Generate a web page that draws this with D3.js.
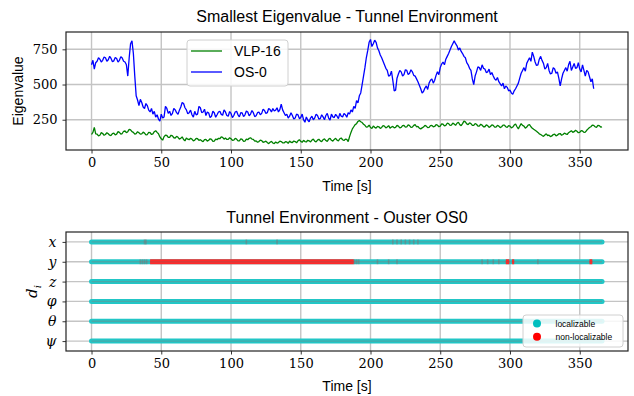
<!DOCTYPE html>
<html>
<head>
<meta charset="utf-8">
<script src="https://cdn.jsdelivr.net/npm/d3@7"></script>
<style>
  body { margin: 0; background: #fff; }
  svg { display: block; }
</style>
</head>
<body>
<svg id="chart" width="634" height="396"></svg>
<script>
// ---------------------------------------------------------------- data
// sample times are every 1 s starting at 0
var step = 1;

// smallest eigenvalue, OS-0 (0 .. 360 s)
var os0 = [640,672,610,655,665,690,680,660,672,695,690,665,676,700,685,662,668,692,684,660,
  672,698,688,665,660,640,560,690,790,810,720,560,420,390,350,395,372,340,330,365,
  350,318,305,330,290,310,268,285,255,240,290,262,270,345,330,295,310,280,295,330,
  320,300,288,318,340,372,365,335,320,292,300,318,285,268,310,285,290,345,335,300,
  305,325,280,305,298,265,275,310,300,268,285,305,310,288,282,320,305,280,275,308,
  295,265,280,305,310,285,270,300,298,272,285,312,305,278,290,315,300,272,278,300,
  305,285,295,325,315,295,300,330,322,305,330,312,318,335,305,322,360,320,300,280,
  290,262,275,300,280,255,262,290,285,258,265,290,250,232,270,248,235,262,275,250,
  262,290,280,255,258,285,270,250,280,295,262,248,290,270,265,288,275,258,295,275,
  270,295,285,268,300,290,320,305,345,330,385,370,420,440,500,560,620,690,740,800,
  820,770,790,815,800,760,740,710,690,665,640,615,600,560,565,595,530,455,460,545,
  575,600,590,560,570,605,600,570,580,605,590,565,560,540,520,495,470,440,450,475,
  490,465,510,530,540,510,530,565,590,570,620,645,660,640,680,700,720,745,770,790,
  810,790,775,745,760,735,720,700,690,655,640,615,600,540,500,560,590,625,620,600,
  640,615,610,585,590,610,570,585,560,540,530,550,520,505,490,510,470,490,480,455,
  460,440,430,455,470,490,510,545,580,600,620,595,650,670,690,665,730,700,660,635,
  640,680,700,670,650,610,620,650,600,575,580,620,610,580,590,545,490,540,580,600,
  620,595,640,665,600,625,650,615,620,655,610,590,640,600,560,600,590,555,520,540,
  470];

// smallest eigenvalue, VLP-16 (0 .. 366 s)
var vlp16 = [145,160,195,150,148,135,140,158,152,140,145,158,150,140,138,152,155,142,148,165,
  160,148,152,168,170,158,165,182,178,165,160,148,152,165,158,148,150,162,155,142,
  145,160,158,145,150,165,172,160,150,128,115,105,130,140,138,125,125,140,135,122,
  120,132,125,112,118,128,110,100,120,112,108,118,112,100,105,118,115,104,108,100,
  95,108,110,98,104,115,110,96,98,112,108,118,115,128,125,112,120,110,110,122,
  115,104,105,118,112,100,100,114,110,96,98,112,108,118,122,112,110,98,100,90,
  95,105,102,90,92,98,88,80,90,96,85,80,92,84,88,98,95,86,85,94,
  92,82,98,90,88,99,95,86,100,108,96,90,104,95,92,104,100,92,106,112,
  98,92,105,112,100,94,108,114,102,96,112,118,104,98,110,118,105,100,115,120,
  108,102,112,110,95,130,160,185,200,215,222,238,245,236,230,218,210,198,200,212,
  195,188,205,196,190,203,200,188,195,208,205,192,198,208,190,198,203,192,195,210,
  205,192,196,208,210,198,200,214,208,196,198,210,215,200,202,190,185,192,198,210,
  205,194,195,208,210,200,202,215,212,200,205,220,218,206,210,225,222,210,212,226,
  220,210,225,232,215,208,222,240,235,220,215,228,222,210,210,222,218,205,205,218,
  212,200,200,213,208,196,202,214,210,198,198,210,205,194,200,212,212,200,195,208,
  205,192,198,212,220,200,185,205,222,210,205,190,198,212,215,200,190,182,175,168,
  160,150,145,138,132,142,150,138,140,130,135,145,148,136,140,150,152,140,145,155,
  150,145,158,165,172,160,165,175,168,158,160,172,170,160,162,175,185,195,200,212,
  210,200,195,210,208,198,200];

// localizability, OS0
var dims = ["x", "y", "z", "\u03c6", "\u03b8", "\u03c8"];
var runEnd = 366;
var nonLocDim = ["y", "y", "y", "y"];
var nonLocStart = [42, 297, 301.5, 357];
var nonLocEnd = [188, 299.5, 303, 359];
// faint marker edges where the flag flips
var flipDim = ["x","x","x","x","x","x","x","x","x","x","x","y","y","y","y","y","y","y","y","y","y","y","y","y","y","y"];
var flipTime = [38,39,111,133,216,219,222,225,228,231,234,35,36.5,38,39.5,188.5,190,191.5,205,213,219,280,284,288,292,320];

var xTicks = [0, 50, 100, 150, 200, 250, 300, 350];
var yTicks = [250, 500, 750];

// ---------------------------------------------------------------- layout
var svg = d3.select("#chart");
var left = 66, right = 628;
var top1 = {top: 32, bottom: 150};
var top2 = {top: 232, bottom: 351};
var sans = "'Liberation Sans', Arial, sans-serif";
var serif = "'DejaVu Serif', serif";
var gridColor = "#c4c4c4";

var x = d3.scaleLinear().domain([-18.3, 384.6]).range([left, right]);

function toSeries(arr) {
  return arr.map(function(v, i) { return [i * step, v]; });
}

function drawXAxis(g, panel) {
  // vertical grid
  g.selectAll(".vgrid").data(xTicks).enter().append("line")
    .attr("x1", function(d) { return x(d); }).attr("x2", function(d) { return x(d); })
    .attr("y1", panel.bottom).attr("y2", panel.top)
    .attr("stroke", gridColor).attr("stroke-width", 1.4);
  var ax = g.append("g").attr("transform", "translate(0," + panel.bottom + ")")
    .call(d3.axisBottom(x).tickValues(xTicks).tickSize(3.5).tickPadding(4));
  ax.select(".domain").remove();
  ax.selectAll("line").attr("stroke", "#000").attr("stroke-width", 0.8);
  ax.selectAll("text").style("font-family", serif).style("font-size", "13px").attr("fill", "#000");
}

// ---------------------------------------------------------------- top panel
var y1 = d3.scaleLinear().domain([35, 873]).range([top1.bottom, top1.top]);
var gTop = svg.append("g");

gTop.selectAll(".hgrid").data(yTicks).enter().append("line")
  .attr("x1", left).attr("x2", right)
  .attr("y1", function(d) { return y1(d); }).attr("y2", function(d) { return y1(d); })
  .attr("stroke", gridColor).attr("stroke-width", 1.4);

drawXAxis(gTop, top1);

var ay1 = gTop.append("g").attr("transform", "translate(" + left + ",0)")
  .call(d3.axisLeft(y1).tickValues(yTicks).tickSize(3.5).tickPadding(5));
ay1.select(".domain").remove();
ay1.selectAll("line").attr("stroke", "#000").attr("stroke-width", 0.8);
ay1.selectAll("text").style("font-family", serif).style("font-size", "13px").attr("fill", "#000");

var line1 = d3.line().x(function(d) { return x(d[0]); }).y(function(d) { return y1(d[1]); });

svg.append("clipPath").attr("id", "clipTop").append("rect")
  .attr("x", left).attr("y", top1.top).attr("width", right - left).attr("height", top1.bottom - top1.top);

gTop.append("path").datum(toSeries(vlp16))
  .attr("d", line1).attr("fill", "none").attr("stroke", "#008000").attr("stroke-width", 1.3)
  .attr("stroke-linejoin", "bevel").attr("clip-path", "url(#clipTop)");
gTop.append("path").datum(toSeries(os0))
  .attr("d", line1).attr("fill", "none").attr("stroke", "#0000ff").attr("stroke-width", 1.3)
  .attr("stroke-linejoin", "bevel").attr("clip-path", "url(#clipTop)");

gTop.append("rect").attr("x", left).attr("y", top1.top)
  .attr("width", right - left).attr("height", top1.bottom - top1.top)
  .attr("fill", "none").attr("stroke", "#222").attr("stroke-width", 1.2);

// legend
var leg1 = gTop.append("g");
leg1.append("rect").attr("x", 187).attr("y", 40).attr("width", 101).attr("height", 46)
  .attr("rx", 3).attr("fill", "#fff").attr("fill-opacity", 0.85)
  .attr("stroke", "#d0d0d0").attr("stroke-width", 1);
var legNames = ["VLP-16", "OS-0"];
var legColors = ["#008000", "#0000ff"];
legNames.forEach(function(n, i) {
  var yy = 51 + i * 21;
  leg1.append("line").attr("x1", 191).attr("x2", 222).attr("y1", yy).attr("y2", yy)
    .attr("stroke", legColors[i]).attr("stroke-width", 1.3);
  leg1.append("text").attr("x", 234).attr("y", yy).attr("dy", "0.36em")
    .style("font-family", sans).style("font-size", "14px").text(n);
});

gTop.append("text").attr("x", 347).attr("y", 22).attr("text-anchor", "middle")
  .style("font-family", sans).style("font-size", "16px").text("Smallest Eigenvalue - Tunnel Environment");
gTop.append("text").attr("x", 347).attr("y", 191).attr("text-anchor", "middle")
  .style("font-family", sans).style("font-size", "14px").text("Time [s]");
gTop.append("text").attr("transform", "translate(23," + ((top1.top + top1.bottom) / 2) + ") rotate(-90)")
  .attr("text-anchor", "middle")
  .style("font-family", sans).style("font-size", "14px").text("Eigenvalue");

// ---------------------------------------------------------------- bottom panel
var y2 = d3.scalePoint().domain(dims).range([top2.top, top2.bottom]).padding(0.5);
var gBot = svg.append("g");

gBot.selectAll(".hgrid").data(dims).enter().append("line")
  .attr("x1", left).attr("x2", right)
  .attr("y1", function(d) { return y2(d); }).attr("y2", function(d) { return y2(d); })
  .attr("stroke", gridColor).attr("stroke-width", 1.4);

drawXAxis(gBot, top2);

// localizable bands
gBot.selectAll(".band").data(dims).enter().append("line")
  .attr("x1", x(0)).attr("x2", x(runEnd))
  .attr("y1", function(d) { return y2(d); }).attr("y2", function(d) { return y2(d); })
  .attr("stroke", "#22c6c6").attr("stroke-width", 5).attr("stroke-linecap", "round");
gBot.selectAll(".bandc").data(dims).enter().append("line")
  .attr("x1", x(0)).attr("x2", x(runEnd))
  .attr("y1", function(d) { return y2(d); }).attr("y2", function(d) { return y2(d); })
  .attr("stroke", "#4aa8a8").attr("stroke-width", 1.4);

// non-localizable segments
var nonLoc = nonLocDim.map(function(d, i) { return {dim: d, t0: nonLocStart[i], t1: nonLocEnd[i]}; });
gBot.selectAll(".nl").data(nonLoc).enter().append("line")
  .attr("x1", function(d) { return x(d.t0); }).attr("x2", function(d) { return x(d.t1); })
  .attr("y1", function(d) { return y2(d.dim); }).attr("y2", function(d) { return y2(d.dim); })
  .attr("stroke", "#ff2a2a").attr("stroke-width", 5);
gBot.selectAll(".nlc").data(nonLoc).enter().append("line")
  .attr("x1", function(d) { return x(d.t0); }).attr("x2", function(d) { return x(d.t1); })
  .attr("y1", function(d) { return y2(d.dim); }).attr("y2", function(d) { return y2(d.dim); })
  .attr("stroke", "#d83a3a").attr("stroke-width", 1.4);

// faint flips
gBot.selectAll(".flip").data(flipTime).enter().append("rect")
  .attr("x", function(d) { return x(d) - 0.8; })
  .attr("y", function(d, i) { return y2(flipDim[i]) - 2.5; })
  .attr("width", 1.6).attr("height", 5)
  .attr("fill", "#8a6a6a").attr("opacity", 0.45);

var ay2 = gBot.append("g").attr("transform", "translate(" + left + ",0)")
  .call(d3.axisLeft(y2).tickSize(3.5).tickPadding(6));
ay2.select(".domain").remove();
ay2.selectAll("line").attr("stroke", "#000").attr("stroke-width", 0.8);
ay2.selectAll("text").style("font-family", serif).style("font-style", "italic")
  .style("font-size", "14px").attr("fill", "#000");

gBot.append("rect").attr("x", left).attr("y", top2.top)
  .attr("width", right - left).attr("height", top2.bottom - top2.top)
  .attr("fill", "none").attr("stroke", "#222").attr("stroke-width", 1.2);

// legend
var leg2 = gBot.append("g");
leg2.append("rect").attr("x", 523).attr("y", 315).attr("width", 100).attr("height", 32)
  .attr("rx", 3).attr("fill", "#fff").attr("fill-opacity", 0.85)
  .attr("stroke", "#d0d0d0").attr("stroke-width", 1);
var leg2Names = ["localizable", "non-localizable"];
var leg2Colors = ["#00bfbf", "#ff0000"];
leg2Names.forEach(function(n, i) {
  var yy = 323.5 + i * 13.3;
  leg2.append("circle").attr("cx", 537).attr("cy", yy).attr("r", 4).attr("fill", leg2Colors[i]);
  leg2.append("text").attr("x", 555.5).attr("y", yy).attr("dy", "0.36em")
    .style("font-family", sans).style("font-size", "8.5px").text(n);
});

gBot.append("text").attr("x", 347).attr("y", 223).attr("text-anchor", "middle")
  .style("font-family", sans).style("font-size", "16px").text("Tunnel Environment - Ouster OS0");
gBot.append("text").attr("x", 347).attr("y", 391).attr("text-anchor", "middle")
  .style("font-family", sans).style("font-size", "14px").text("Time [s]");
var dl = gBot.append("text").attr("transform", "translate(37," + ((top2.top + top2.bottom) / 2) + ") rotate(-90)")
  .attr("text-anchor", "middle")
  .style("font-family", serif).style("font-style", "italic").style("font-size", "15px");
dl.append("tspan").text("d");
dl.append("tspan").attr("dy", 4).style("font-size", "10px").text("i");
</script>
</body>
</html>
